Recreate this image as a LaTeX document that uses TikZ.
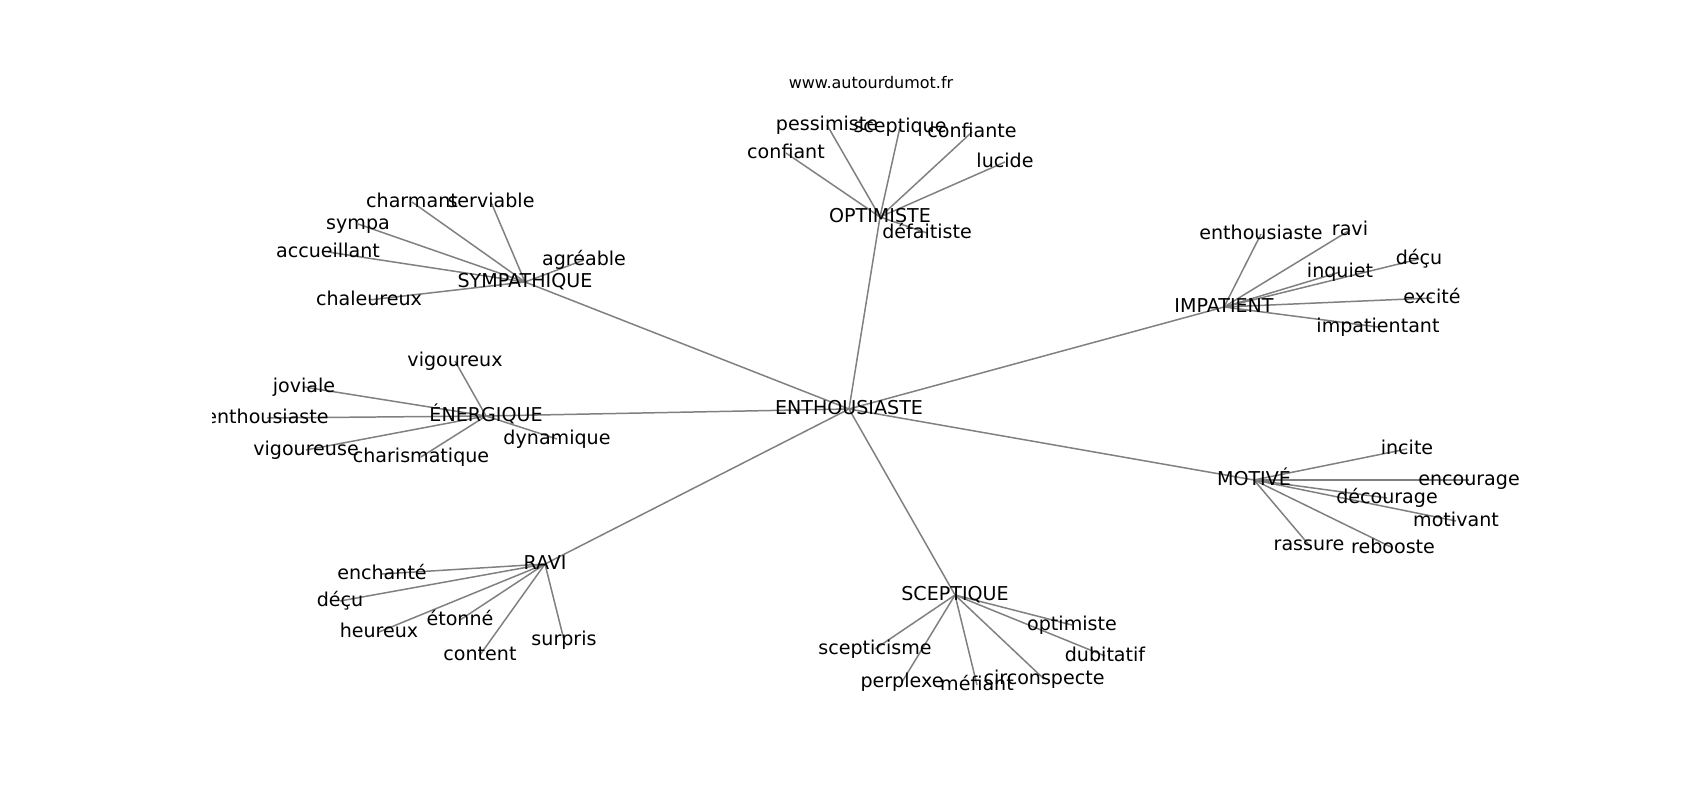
\documentclass[tikz,border=0pt]{standalone}
\usepackage{fontspec}
\setmainfont{DejaVu Sans}
\usetikzlibrary{backgrounds}

\tikzset{
	word/.style={inner sep=0pt, text height=8.25pt, text depth=2.3pt,
		font=\fontsize{10.86}{13}\selectfont},
	link/.style={draw=gray, line width=0.85pt},
}

\begin{document}
\begin{tikzpicture}[x=0.02cm,y=-0.02cm]
				\useasboundingbox (0,0) rectangle (1700,800);
				\node[font=\fontsize{9.1}{11}\selectfont] (site) at (871,83) {www.autourdumot.fr};
				
				\begin{scope}
				\clip (212.5,96) rectangle (1530,712);
				\node[word] (E) at (849,409) {ENTHOUSIASTE};
				\node[word] (O) at (880,217) {OPTIMISTE};
				\node[word] (S) at (525,282) {SYMPATHIQUE};
				\node[word] (N) at (486,416) {ÉNERGIQUE};
				\node[word] (I) at (1224,307) {IMPATIENT};
				\node[word] (M) at (1254,480) {MOTIVÉ};
				\node[word] (R) at (545,564) {RAVI};
				\node[word] (C) at (955,595) {SCEPTIQUE};
				
				\foreach \n/\x/\y/\t in {O1/827/125/pessimiste, O2/900/127/sceptique,
					O3/972/132/confiante, O4/786/153/confiant, O5/1005/162/lucide,
					O6/927/233/défaitiste,
					S1/412/202/charmant, S2/491/202/serviable, S3/358/224/sympa,
					S4/328/252/accueillant, S5/584/260/agréable, S6/369/300/chaleureux,
					N1/455/361/vigoureux, N2/304/387/joviale, N3/267/418/enthousiaste,
					N4/306/450/vigoureuse, N5/421/457/charismatique, N6/557/439/dynamique,
					I1/1261/234/enthousiaste, I2/1350/230/ravi, I3/1340/272/inquiet,
					I4/1419/259/déçu, I5/1432/298/excité, I6/1378/327/impatientant,
					M1/1407/449/incite, M2/1469/480/encourage, M3/1387/498/décourage,
					M4/1456/521/motivant, M5/1309/545/rassure, M6/1393/548/rebooste,
					R1/382/574/enchanté, R2/340/601/déçu, R3/460/620/étonné,
					R4/379/632/heureux, R5/480/655/content, R6/564/640/surpris,
					C1/1072/625/optimiste, C2/875/649/scepticisme, C3/1105/656/dubitatif,
					C4/902/682/perplexe, C5/977/685/méfiant, C6/1044/679/circonspecte}{
					\node[word] (\n) at (\x,\y) {\t};}
				\end{scope}
				
				\begin{scope}[on background layer]
				\foreach \h in {O,S,N,I,M,R,C}{
					\draw[link] (E.center) -- (\h.center);
					\foreach \j in {1,...,6}{
						\draw[link] (\h.center) -- (\h\j.center);}}
				\end{scope}
			\end{tikzpicture}
\end{document}
